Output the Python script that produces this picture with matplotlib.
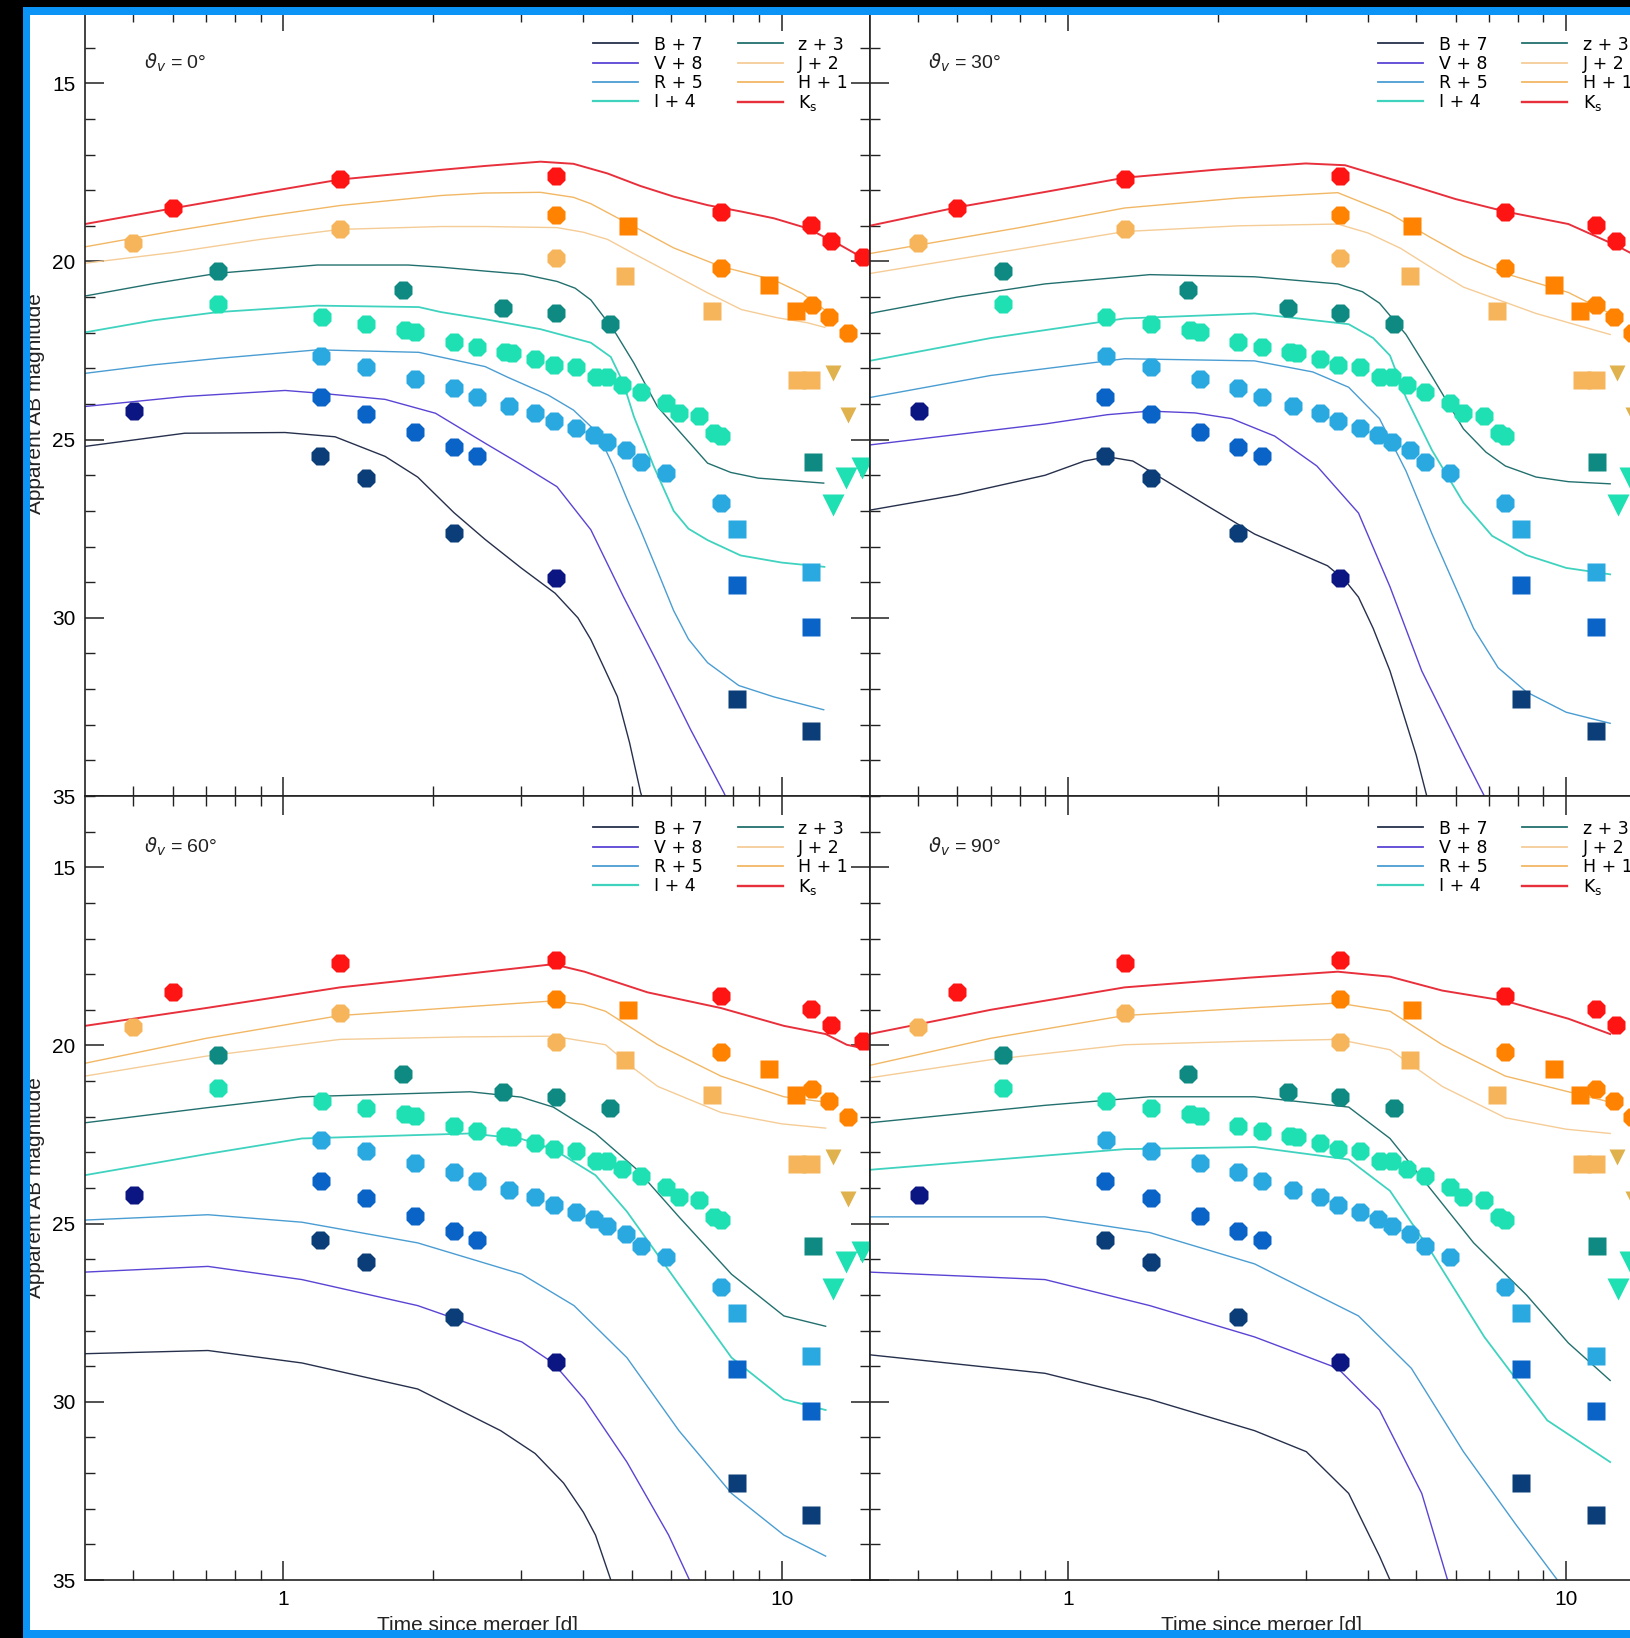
import matplotlib
matplotlib.use("Agg")
import matplotlib.pyplot as plt
from matplotlib.ticker import FixedLocator, FixedFormatter, NullFormatter, MultipleLocator
from matplotlib.lines import Line2D
from matplotlib.patches import Rectangle

plt.rcParams["font.family"] = ["Liberation Sans", "DejaVu Sans"]
plt.rcParams["mathtext.fontset"] = "dejavusans"

# ---------------------------------------------------------------- observations
ks_t = [0.60, 1.30, 3.52, 7.55, 11.45, 12.56, 14.54]
ks_m = [18.51, 17.70, 17.61, 18.61, 18.98, 19.44, 19.88]

h_t = [3.52, 7.55, 11.50, 12.46, 13.57]
h_m = [18.70, 20.19, 21.22, 21.55, 22.00]
h_sq_t = [4.91, 9.44, 10.68]
h_sq_m = [19.00, 20.66, 21.40]

j_t = [0.50, 1.30, 3.52]
j_m = [19.48, 19.10, 19.91]
j_sq_t = [4.85, 7.26, 10.75, 11.45]
j_sq_m = [20.42, 21.38, 23.32, 23.32]
j_ul_t = [12.66, 13.60]
j_ul_m = [23.12, 24.30]

z_t = [0.74, 1.74, 2.76, 3.52, 4.52]
z_m = [20.28, 20.80, 21.31, 21.45, 21.76]
z_sq_t = [11.54]
z_sq_m = [25.62]

i_t = [0.74, 1.195, 1.466, 1.757, 1.84, 2.197, 2.447, 2.79, 2.88, 3.20, 3.49,
       3.86, 4.23, 4.47, 4.79, 5.21, 5.85, 6.22, 6.83, 7.32, 7.55]
i_m = [21.19, 21.57, 21.76, 21.92, 21.97, 22.25, 22.39, 22.54, 22.58, 22.75, 22.91,
       22.95, 23.23, 23.23, 23.46, 23.66, 23.98, 24.26, 24.35, 24.82, 24.91]
i_ul_t = [12.70, 13.45, 14.50]
i_ul_m = [26.83, 26.08, 25.80]

r_t = [1.191, 1.466, 1.84, 2.197, 2.447, 2.83, 3.20, 3.49, 3.86, 4.20, 4.47,
       4.86, 5.21, 5.85, 7.55]
r_m = [22.65, 22.95, 23.30, 23.56, 23.79, 24.07, 24.26, 24.49, 24.68, 24.87, 25.06,
       25.29, 25.62, 25.94, 26.77]
r_sq_t = [8.13, 11.45]
r_sq_m = [27.50, 28.72]

v_t = [1.19, 1.466, 1.84, 2.197, 2.447]
v_m = [23.79, 24.28, 24.78, 25.22, 25.47]
v_sq_t = [8.13, 11.45]
v_sq_m = [29.08, 30.26]

b_t = [1.185, 1.466, 2.197]
b_m = [25.45, 26.08, 27.63]
b_sq_t = [8.13, 11.45]
b_sq_m = [32.28, 33.19]

bn_t = [0.502, 3.52]
bn_m = [24.21, 28.89]

# ---------------------------------------------------------------- model light curves (t [d], mag)
ks_0 = [(0.40, 18.95), (0.60, 18.51), (0.90, 18.08), (1.30, 17.70), (2.07, 17.43), (2.54, 17.32),
        (3.28, 17.20), (3.82, 17.26), (4.47, 17.53), (5.20, 17.88), (6.07, 18.18), (7.10, 18.42),
        (8.30, 18.60), (9.65, 18.79), (11.26, 19.07), (13.1, 19.54), (14.55, 19.90), (15.0, 19.98)]
h_0 = [(0.40, 19.59), (0.60, 19.15), (0.90, 18.75), (1.30, 18.43), (2.07, 18.15), (2.54, 18.08),
       (3.28, 18.06), (3.82, 18.20), (4.14, 18.38), (4.60, 18.72), (5.21, 19.12), (6.07, 19.62),
       (7.55, 20.14), (9.65, 20.52), (11.0, 20.90), (12.2, 21.36)]
j_0 = [(0.40, 20.05), (0.60, 19.75), (0.90, 19.38), (1.30, 19.10), (2.07, 19.02), (2.54, 19.02),
       (3.54, 19.05), (4.00, 19.18), (4.47, 19.38), (5.00, 19.75), (5.63, 20.13), (7.10, 20.88),
       (8.30, 21.35), (9.80, 21.58), (11.26, 21.72), (12.2, 21.85)]
z_0 = [(0.40, 20.97), (0.55, 20.62), (0.74, 20.33), (1.17, 20.10), (1.78, 20.10), (2.07, 20.16),
       (2.54, 20.27), (3.03, 20.36), (3.54, 20.56), (3.85, 20.75), (4.14, 21.08), (4.60, 21.92),
       (5.05, 22.85), (5.63, 24.07), (6.27, 24.81), (7.10, 25.66), (7.90, 25.92), (8.97, 26.08),
       (12.14, 26.22)]
i_0 = [(0.40, 21.99), (0.55, 21.65), (0.74, 21.42), (1.17, 21.24), (1.87, 21.28), (2.07, 21.42),
       (2.54, 21.62), (3.28, 21.90), (4.14, 22.28), (4.54, 22.68), (4.81, 23.41), (5.05, 24.35),
       (5.54, 25.76), (6.07, 27.00), (6.50, 27.50), (7.10, 27.82), (8.27, 28.25), (10.0, 28.45),
       (12.18, 28.57)]
r_0 = [(0.40, 23.14), (0.55, 22.90), (0.74, 22.72), (1.17, 22.48), (1.87, 22.55), (2.54, 22.95),
       (2.82, 23.25), (3.40, 23.75), (3.82, 24.17), (4.27, 24.81), (4.60, 25.76), (4.90, 26.69),
       (5.21, 27.54), (5.60, 28.60), (6.07, 29.80), (6.50, 30.60), (7.10, 31.26), (8.20, 31.90),
       (9.65, 32.22), (12.14, 32.58)]
v_0 = [(0.40, 24.07), (0.634, 23.79), (1.008, 23.62), (1.19, 23.70), (1.60, 23.87), (2.02, 24.26),
       (2.54, 25.10), (3.00, 25.70), (3.54, 26.32), (4.14, 27.53), (4.81, 29.40), (5.63, 31.26),
       (6.56, 33.13), (7.65, 34.90), (8.0, 35.5)]
b_0 = [(0.40, 25.19), (0.634, 24.82), (1.008, 24.80), (1.27, 24.92), (1.60, 25.47), (1.86, 26.05),
       (2.20, 27.05), (2.54, 27.80), (3.00, 28.60), (3.51, 29.31), (3.90, 30.00), (4.14, 30.61),
       (4.40, 31.40), (4.68, 32.21), (4.95, 33.50), (5.21, 34.90), (5.4, 35.6)]

ks_1 = [(0.40, 19.00), (0.60, 18.48), (0.90, 18.05), (1.30, 17.65), (2.00, 17.42), (3.00, 17.25),
        (3.60, 17.30), (4.65, 17.77), (6.00, 18.25), (7.55, 18.60), (10.1, 18.95), (12.55, 19.54),
        (15.0, 20.10)]
h_1 = [(0.40, 19.78), (0.80, 19.05), (1.30, 18.50), (2.20, 18.22), (3.48, 18.07), (4.43, 18.66),
       (5.30, 19.30), (6.22, 19.84), (7.55, 20.34), (10.1, 20.87), (12.25, 21.46)]
j_1 = [(0.40, 20.34), (0.80, 19.65), (1.30, 19.16), (2.20, 19.00), (3.48, 18.95), (4.00, 19.20),
       (4.65, 19.63), (5.40, 20.20), (6.22, 20.72), (8.70, 21.46), (12.25, 22.05)]
z_1 = [(0.40, 21.46), (0.60, 21.00), (0.90, 20.63), (1.46, 20.37), (2.37, 20.43), (3.48, 20.63),
       (3.90, 20.85), (4.22, 21.17), (4.77, 22.05), (5.38, 23.23), (6.22, 24.70), (6.90, 25.35),
       (7.55, 25.74), (8.70, 26.05), (10.1, 26.18), (12.25, 26.24)]
i_1 = [(0.40, 22.79), (0.70, 22.15), (1.30, 21.60), (2.37, 21.46), (3.66, 21.76), (4.10, 22.15),
       (4.43, 22.64), (4.77, 23.82), (5.38, 25.30), (6.22, 26.77), (7.10, 27.70), (8.32, 28.24),
       (10.0, 28.60), (12.25, 28.78)]
r_1 = [(0.40, 23.82), (0.70, 23.20), (1.30, 22.73), (2.37, 22.79), (3.10, 23.10), (3.66, 23.53),
       (4.22, 24.41), (4.77, 25.88), (5.38, 27.65), (6.52, 30.30), (7.30, 31.40), (8.32, 32.08),
       (10.0, 32.65), (12.25, 32.96)]
v_1 = [(0.40, 25.15), (0.90, 24.56), (1.20, 24.30), (1.46, 24.20), (1.80, 24.25), (2.13, 24.41),
       (2.60, 24.90), (3.16, 25.74), (3.83, 27.06), (4.43, 29.13), (5.13, 31.49), (6.22, 33.85),
       (6.85, 35.0), (7.1, 35.5)]
b_1 = [(0.40, 26.98), (0.60, 26.55), (0.90, 26.00), (1.08, 25.60), (1.20, 25.48), (1.35, 25.60),
       (1.46, 25.88), (1.90, 26.85), (2.37, 27.65), (3.32, 28.54), (3.60, 28.95), (3.83, 29.42),
       (4.10, 30.30), (4.43, 31.49), (5.00, 33.85), (5.25, 35.0), (5.4, 35.5)]

ks_2 = [(0.40, 19.45), (0.70, 18.95), (1.30, 18.37), (2.30, 18.00), (3.48, 17.72), (4.02, 17.93),
        (5.38, 18.51), (7.55, 18.95), (10.1, 19.45), (12.25, 19.68), (13.5, 19.98), (15.0, 20.12)]
h_2 = [(0.40, 20.50), (0.70, 19.80), (1.30, 19.16), (2.30, 18.92), (3.48, 18.75), (4.00, 18.85),
       (4.43, 19.04), (5.64, 19.98), (7.55, 20.86), (10.1, 21.44), (12.25, 21.59)]
j_2 = [(0.40, 20.86), (0.70, 20.30), (1.30, 19.83), (2.30, 19.76), (3.48, 19.74), (4.43, 19.98),
       (5.00, 20.60), (5.64, 21.15), (7.55, 21.88), (10.0, 22.20), (12.25, 22.32)]
z_2 = [(0.40, 22.17), (0.70, 21.75), (1.09, 21.44), (2.37, 21.30), (3.00, 21.45), (3.48, 21.73),
       (4.23, 22.47), (5.13, 23.49), (6.22, 24.81), (7.93, 26.42), (10.1, 27.59), (12.25, 27.88)]
i_2 = [(0.40, 23.64), (0.70, 23.05), (1.09, 22.61), (2.37, 22.47), (3.00, 22.62), (3.48, 22.91),
       (4.23, 23.64), (4.89, 24.66), (6.22, 26.71), (7.93, 28.76), (10.1, 29.93), (12.25, 30.23)]
r_2 = [(0.40, 24.90), (0.706, 24.75), (1.09, 24.96), (1.86, 25.54), (3.01, 26.42), (3.83, 27.30),
       (4.89, 28.76), (6.22, 30.81), (7.93, 32.57), (10.1, 33.74), (12.25, 34.33)]
v_2 = [(0.40, 26.36), (0.706, 26.20), (1.09, 26.57), (1.86, 27.30), (3.01, 28.32), (3.48, 28.91),
       (4.02, 29.93), (4.89, 31.69), (5.93, 33.74), (6.53, 35.0), (6.8, 35.5)]
b_2 = [(0.40, 28.65), (0.706, 28.56), (1.09, 28.91), (1.86, 29.64), (2.73, 30.81), (3.20, 31.45),
       (3.65, 32.28), (4.00, 33.10), (4.23, 33.74), (4.54, 35.0), (4.7, 35.5)]

ks_3 = [(0.40, 19.68), (0.70, 19.00), (1.30, 18.37), (2.30, 18.10), (3.48, 17.93), (4.43, 18.07),
        (5.64, 18.46), (7.55, 18.75), (10.1, 19.25), (12.25, 19.68)]
h_3 = [(0.40, 20.56), (0.70, 19.80), (1.30, 19.16), (2.30, 18.95), (3.48, 18.81), (4.43, 19.04),
       (5.64, 19.98), (7.55, 20.86), (10.1, 21.30), (12.25, 21.59)]
j_3 = [(0.40, 20.91), (0.70, 20.40), (1.30, 19.98), (2.30, 19.88), (3.48, 19.83), (4.43, 20.12),
       (5.64, 21.15), (7.55, 22.03), (10.0, 22.35), (12.25, 22.47)]
z_3 = [(0.40, 22.17), (0.90, 21.68), (1.46, 21.44), (2.37, 21.44), (3.66, 21.73), (4.43, 22.61),
       (5.38, 24.08), (6.52, 25.54), (8.32, 27.00), (10.1, 28.35), (12.25, 29.40)]
i_3 = [(0.40, 23.49), (1.30, 22.91), (2.37, 22.85), (3.66, 23.20), (4.43, 24.08), (5.38, 25.83),
       (6.85, 28.18), (9.16, 30.52), (12.25, 31.69)]
r_3 = [(0.40, 24.81), (0.90, 24.81), (1.46, 25.25), (2.37, 26.13), (3.83, 27.59), (4.89, 29.06),
       (6.22, 31.40), (7.93, 33.45), (9.60, 35.0), (10.0, 35.5)]
v_3 = [(0.40, 26.36), (0.90, 26.57), (1.46, 27.30), (2.37, 28.18), (3.48, 29.06), (4.22, 30.23),
       (5.13, 32.57), (5.78, 35.0), (6.0, 35.5)]
b_3 = [(0.40, 28.68), (0.90, 29.20), (1.46, 29.93), (2.37, 30.81), (3.01, 31.40), (3.66, 32.57),
       (4.22, 34.33), (4.43, 35.0), (4.6, 35.5)]

view_angles = [0, 30, 60, 90]
band_keys = ["B", "V", "R", "I", "z", "J", "H", "Ks"]
band_labels = ["B + 7", "V + 8", "R + 5", "I + 4", "z + 3", "J + 2", "H + 1", r"K$_\mathrm{s}$"]
line_colors = ["#26304c", "#5a44d4", "#4a9dd2", "#3fd3bf", "#22706e", "#f5cc96", "#f2b764", "#e8303c"]
line_widths = [1.0, 1.0, 1.0, 1.3, 1.0, 1.0, 1.0, 1.4]

models = [
    dict(B=b_0, V=v_0, R=r_0, I=i_0, z=z_0, J=j_0, H=h_0, Ks=ks_0),
    dict(B=b_1, V=v_1, R=r_1, I=i_1, z=z_1, J=j_1, H=h_1, Ks=ks_1),
    dict(B=b_2, V=v_2, R=r_2, I=i_2, z=z_2, J=j_2, H=h_2, Ks=ks_2),
    dict(B=b_3, V=v_3, R=r_3, I=i_3, z=z_3, J=j_3, H=h_3, Ks=ks_3),
]

# (times, mags, marker, size, colour)
observations = [
    (ks_t, ks_m, "8", 14, "#ff1414"),
    (h_t, h_m, "8", 14, "#ff8200"),
    (h_sq_t, h_sq_m, "s", 13, "#ff8200"),
    (j_t, j_m, "8", 14, "#f6b55a"),
    (j_sq_t, j_sq_m, "s", 13, "#f6b55a"),
    (j_ul_t, j_ul_m, "v", 11, "#dfb24e"),
    (z_t, z_m, "8", 14, "#0f8a82"),
    (z_sq_t, z_sq_m, "s", 13, "#0f8a82"),
    (i_t, i_m, "8", 14, "#1fe0b2"),
    (i_ul_t, i_ul_m, "v", 16, "#1fe0b2"),
    (r_t, r_m, "8", 14, "#2aa8e0"),
    (r_sq_t, r_sq_m, "s", 13, "#2aa8e0"),
    (v_t, v_m, "8", 14, "#0a64c8"),
    (v_sq_t, v_sq_m, "s", 13, "#0a64c8"),
    (b_t, b_m, "8", 14, "#0b3d78"),
    (b_sq_t, b_sq_m, "s", 13, "#0b3d78"),
    (bn_t, bn_m, "8", 14, "#0c1682"),
]

# ---------------------------------------------------------------- layout (pixel based)
W, H = 1630, 1638
fig = plt.figure(figsize=(W / 100, H / 100), dpi=100, facecolor="white")

col_x = [85.0, 869.5]
row_top = [12.0, 796.0]
pw, ph = 784.5, 784.0


def rect(x0, ytop, w, h):
    return [x0 / W, 1 - (ytop + h) / H, w / W, h / H]


minor_x = [0.5, 0.6, 0.7, 0.8, 0.9, 2, 3, 4, 5, 6, 7, 8, 9]

for k, ang in enumerate(view_angles):
    row, col = divmod(k, 2)
    ax = fig.add_axes(rect(col_x[col], row_top[row], pw, ph))
    ax.set_xscale("log")
    ax.set_xlim(0.4, 15)
    ax.set_ylim(35, 13)

    for key, c, lw in zip(band_keys, line_colors, line_widths):
        pts = models[k][key]
        ax.plot([p[0] for p in pts], [p[1] for p in pts], color=c, lw=lw, zorder=2,
                solid_joinstyle="round")

    for tt, mm, mk, ms, c in observations:
        ax.plot(tt, mm, ls="none", marker=mk, ms=ms, color=c, mec="none", zorder=3)

    ax.xaxis.set_major_locator(FixedLocator([1, 10]))
    ax.xaxis.set_major_formatter(FixedFormatter(["1", "10"]))
    ax.xaxis.set_minor_locator(FixedLocator(minor_x))
    ax.xaxis.set_minor_formatter(NullFormatter())
    ax.yaxis.set_major_locator(MultipleLocator(5))
    ax.yaxis.set_minor_locator(MultipleLocator(1))

    ax.tick_params(which="both", direction="in", top=True, right=True,
                   color="#222222", labelsize=15, pad=7)
    ax.tick_params(which="major", length=13.5, width=1.1)
    ax.tick_params(which="minor", length=7, width=1.0)
    ax.tick_params(labelbottom=(row == 1), labelleft=(col == 0))
    for s in ax.spines.values():
        s.set_linewidth(1.2)
        s.set_color("#222222")

    ax.text(0.075, 0.935, r"$\vartheta_v$ = %d°" % ang, transform=ax.transAxes,
            fontsize=14, ha="left", va="center", color="#222222")

    handles = [Line2D([], [], color=c, lw=lw + 0.3) for c, lw in zip(line_colors, line_widths)]
    ax.legend(handles, band_labels, loc="upper left", bbox_to_anchor=(0.648, 0.970),
              ncol=2, frameon=False, prop={"family": "DejaVu Sans", "size": 12.5},
              handlelength=2.6, handletextpad=0.9, labelspacing=0.07, columnspacing=2.0,
              borderpad=0, borderaxespad=0)

# axis titles
for row in range(2):
    yc = 1 - (row_top[row] + ph / 2) / H
    fig.text(45 / W, yc, "Apparent AB magnitude", rotation=90, ha="right", va="center",
             fontsize=15, color="#222222")
for col in range(2):
    fig.text((col_x[col] + pw / 2) / W, 1 - 1631 / H, "Time since merger [d]",
             ha="center", va="baseline", fontsize=15, color="#222222")

# screen frame around the figure
frame = [
    ((0, 0), 23, H, "black"),
    ((0, H - 7), W, 7, "black"),
    ((23, 0), 7, H - 7, "#0b93f5"),
    ((23, H - 15), W, 8, "#0b93f5"),
    ((23, 0), W, 8, "#0b93f5"),
]
for (x0, y0), w, h, c in frame:
    fig.add_artist(Rectangle((x0 / W, y0 / H), w / W, h / H, transform=fig.transFigure,
                             facecolor=c, edgecolor="none", zorder=100))

fig.savefig("out.png", dpi=100, facecolor="white")
